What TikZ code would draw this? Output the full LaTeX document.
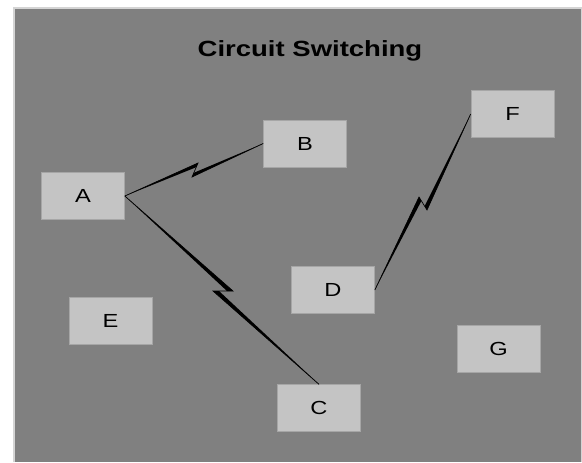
\documentclass[tikz,border=0pt]{standalone}
\usepackage{fontspec}
\setmainfont{Liberation Sans}
\newfontfamily\widefont[FakeStretch=1.25]{Liberation Sans}
\usetikzlibrary{calc}
\definecolor{panelgray}{HTML}{808080}
\definecolor{boxgray}{HTML}{C4C4C4}
\definecolor{edgegray}{HTML}{A6A6A6}
\definecolor{rimgray}{HTML}{D4D4D4}
\tikzset{
	station/.style={fill=boxgray, draw=edgegray, line width=0.5pt, inner sep=0pt,
		minimum width=62.25pt, minimum height=35pt, font=\widefont\fontsize{14.2}{15}\selectfont},
	bolt/.style={line width=0.5pt, black},
}
\begin{document}
\begin{tikzpicture}[x=0.75pt,y=-0.75pt]
	\useasboundingbox (0,0) rectangle (582,462);
	\fill[panelgray] (14,8) rectangle (581.5,462);
	\draw[rimgray, line width=0.8pt] (14,462) -- (14,8) -- (581.5,8) -- (581.5,462);
	\node[anchor=base, font=\widefont\bfseries\fontsize{16.5}{18}\selectfont] (title) at (310,56.5) {Circuit Switching};
	\node[station] (A) at (83,196) {A};
	\node[station] (B) at (305,143.5) {B};
	\node[station] (C) at (319,408) {C};
	\node[station] (D) at (333,290) {D};
	\node[station] (E) at (110.5,320.5) {E};
	\node[station] (F) at (512.5,114) {F};
	\node[station] (G) at (498.5,349) {G};
	\path
	coordinate (ab1) at (198,163)
	coordinate (ab2) at (192,177)
	coordinate (ac1) at (233,291)
	coordinate (ac2) at (213,291)
	coordinate (df1) at (419,197)
	coordinate (df2) at (427,210)
	;
	% A to B
	\draw[bolt] (A.east) -- (ab1) -- (ab2) -- (B.west);
	\fill (A.east) -- (ab1) -- ($(ab1)!0.3!(ab2)$) -- cycle;
	\fill (B.west) -- (ab2) -- ($(ab2)!0.3!(ab1)$) -- cycle;
	% A to C
	\draw[bolt] (A.east) -- (ac1) -- (ac2) -- (C.north);
	\fill (A.east) -- (ac1) -- ($(ac1)!0.3!(ac2)$) -- cycle;
	\fill (C.north) -- (ac2) -- ($(ac2)!0.3!(ac1)$) -- cycle;
	% D to F
	\draw[bolt] (D.east) -- (df1) -- (df2) -- (F.west);
	\fill (D.east) -- (df1) -- ($(df1)!0.3!(df2)$) -- cycle;
	\fill (F.west) -- (df2) -- ($(df2)!0.3!(df1)$) -- cycle;
\end{tikzpicture}
\end{document}
